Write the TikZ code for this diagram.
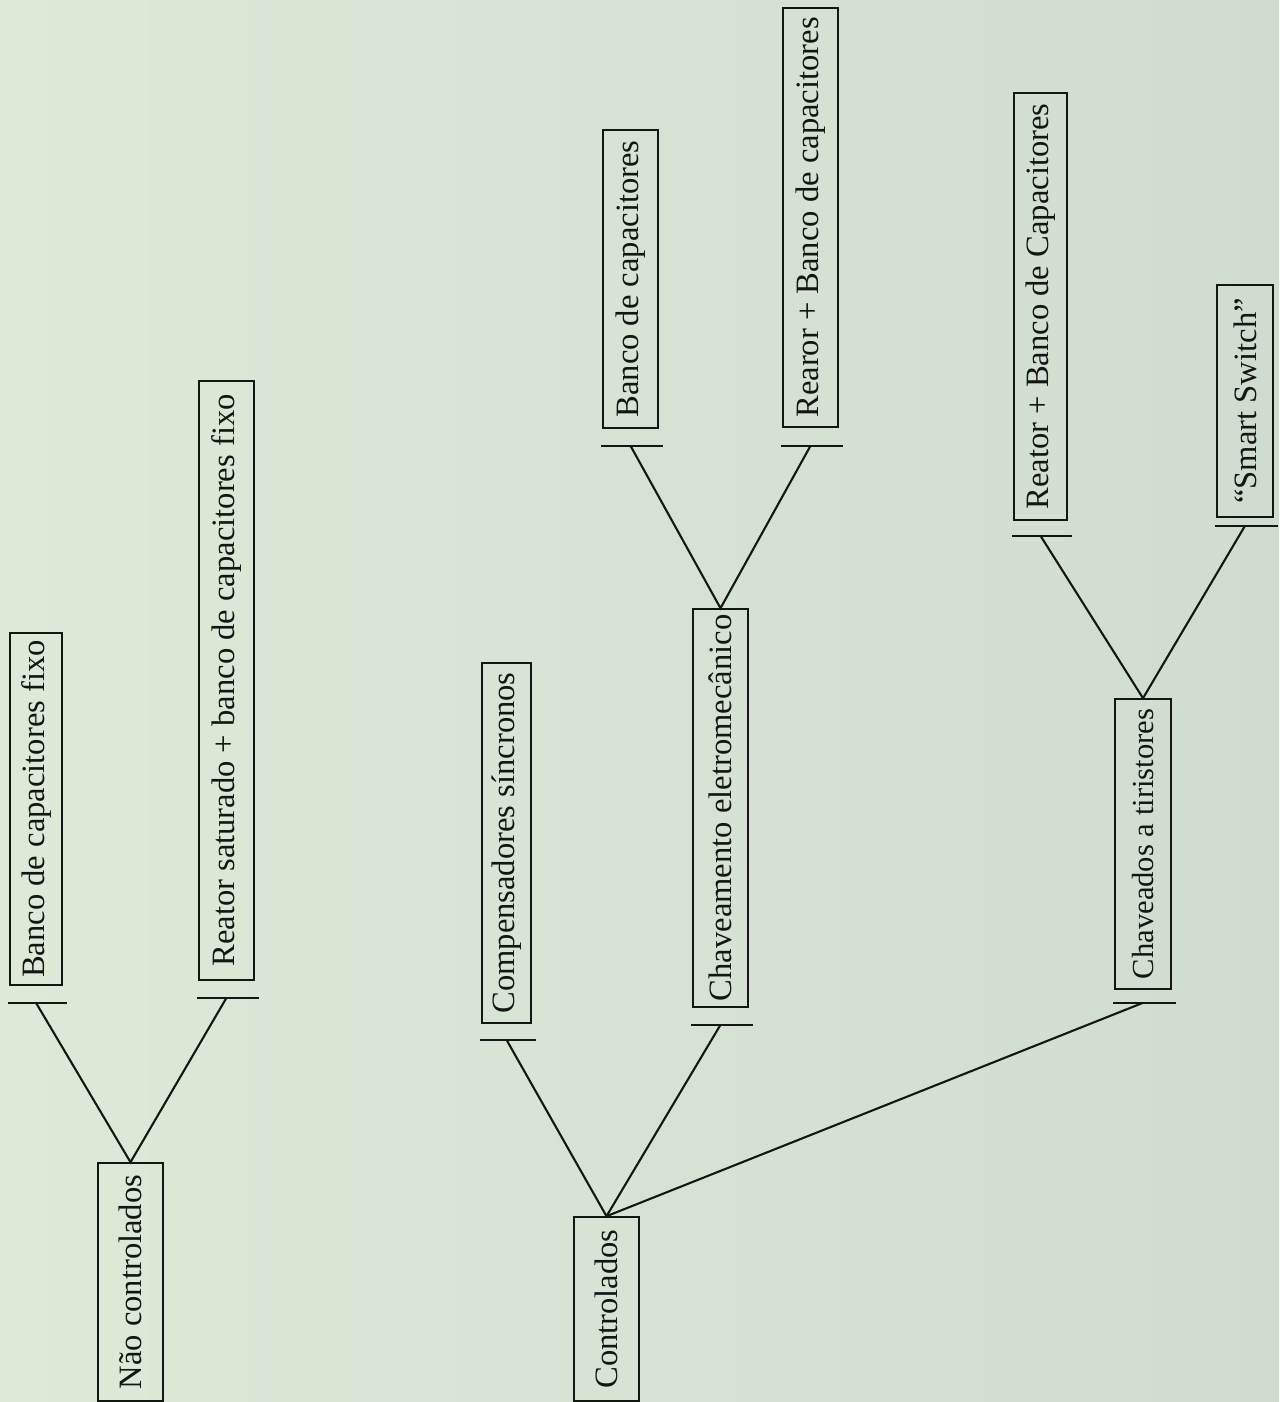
\documentclass[tikz,border=0pt]{standalone}
\usepackage{fontspec}
\setmainfont{Liberation Serif}
\usetikzlibrary{calc}
\definecolor{paperL}{RGB}{222,234,215}
\definecolor{paperR}{RGB}{207,221,208}
\definecolor{ink}{RGB}{20,22,20}
\begin{document}
\begin{tikzpicture}[x=0.5pt,y=-0.5pt,
  box/.style={draw=ink, line width=0.8pt, rotate=90, inner sep=0pt,
    font=\fontsize{16.3}{18}\selectfont, text=ink},
  bar/.style={draw=ink, line width=0.9pt},
  link/.style={draw=ink, line width=1.05pt}]
\useasboundingbox (0,0) rectangle (1279,1402);
\shade[left color=paperL, right color=paperR] (0,0) rectangle (1279,1402);

% first family: uncontrolled
\node[box, minimum width=119pt, minimum height=32.5pt] (A) at (130.5,1282) {Não controlados};
\node[box, minimum width=176pt, minimum height=26pt] (B) at (36,809) {Banco de capacitores fixo};
\node[box, minimum width=299.5pt, minimum height=27.5pt] (C) at (226.5,680.5) {Reator saturado + banco de capacitores fixo};

% second family: controlled
\node[box, minimum width=92pt, minimum height=32.5pt] (D) at (606.5,1309) {Controlados};
\node[box, minimum width=180pt, minimum height=24.5pt] (E) at (506.5,843) {Compensadores síncronos};
\node[box, minimum width=199pt, minimum height=27.5pt] (F) at (720.5,808) {Chaveamento eletromecânico};
\node[box, minimum width=149pt, minimum height=27.5pt] (G) at (630.5,279) {Banco de capacitores};
\node[box, minimum width=209.5pt, minimum height=27.5pt] (H) at (810.5,217.5) {Rearor + Banco de capacitores};
\node[box, minimum width=145pt, minimum height=28pt, font=\fontsize{15.3}{17}\selectfont] (I) at (1143,844) {Chaveados a tiristores};
\node[box, minimum width=213.5pt, minimum height=26.5pt] (J) at (1040.5,306.5) {Reator + Banco de Capacitores};
\node[box, minimum width=116pt, minimum height=28pt] (K) at (1245,401) {“Smart Switch”};

% short bars under the child boxes
\foreach \n/\g in {B/17,C/17,E/16,F/17,G/17,H/18,I/13,J/15,K/8}{
  \draw[bar] ($(\n.north west)+(-1,\g)$) -- ($(\n.south west)+(4,\g)$);
  \coordinate (t\n) at ($(\n.west)+(0,\g)$);
}

% branches
\draw[link] (tB) -- (A.east) -- (tC);
\draw[link] (tE) -- (D.east) -- (tF);
\draw[link] (D.east) -- (tI);
\draw[link] (tG) -- (F.east) -- (tH);
\draw[link] (tJ) -- (I.east) -- (tK);
\end{tikzpicture}
\end{document}
